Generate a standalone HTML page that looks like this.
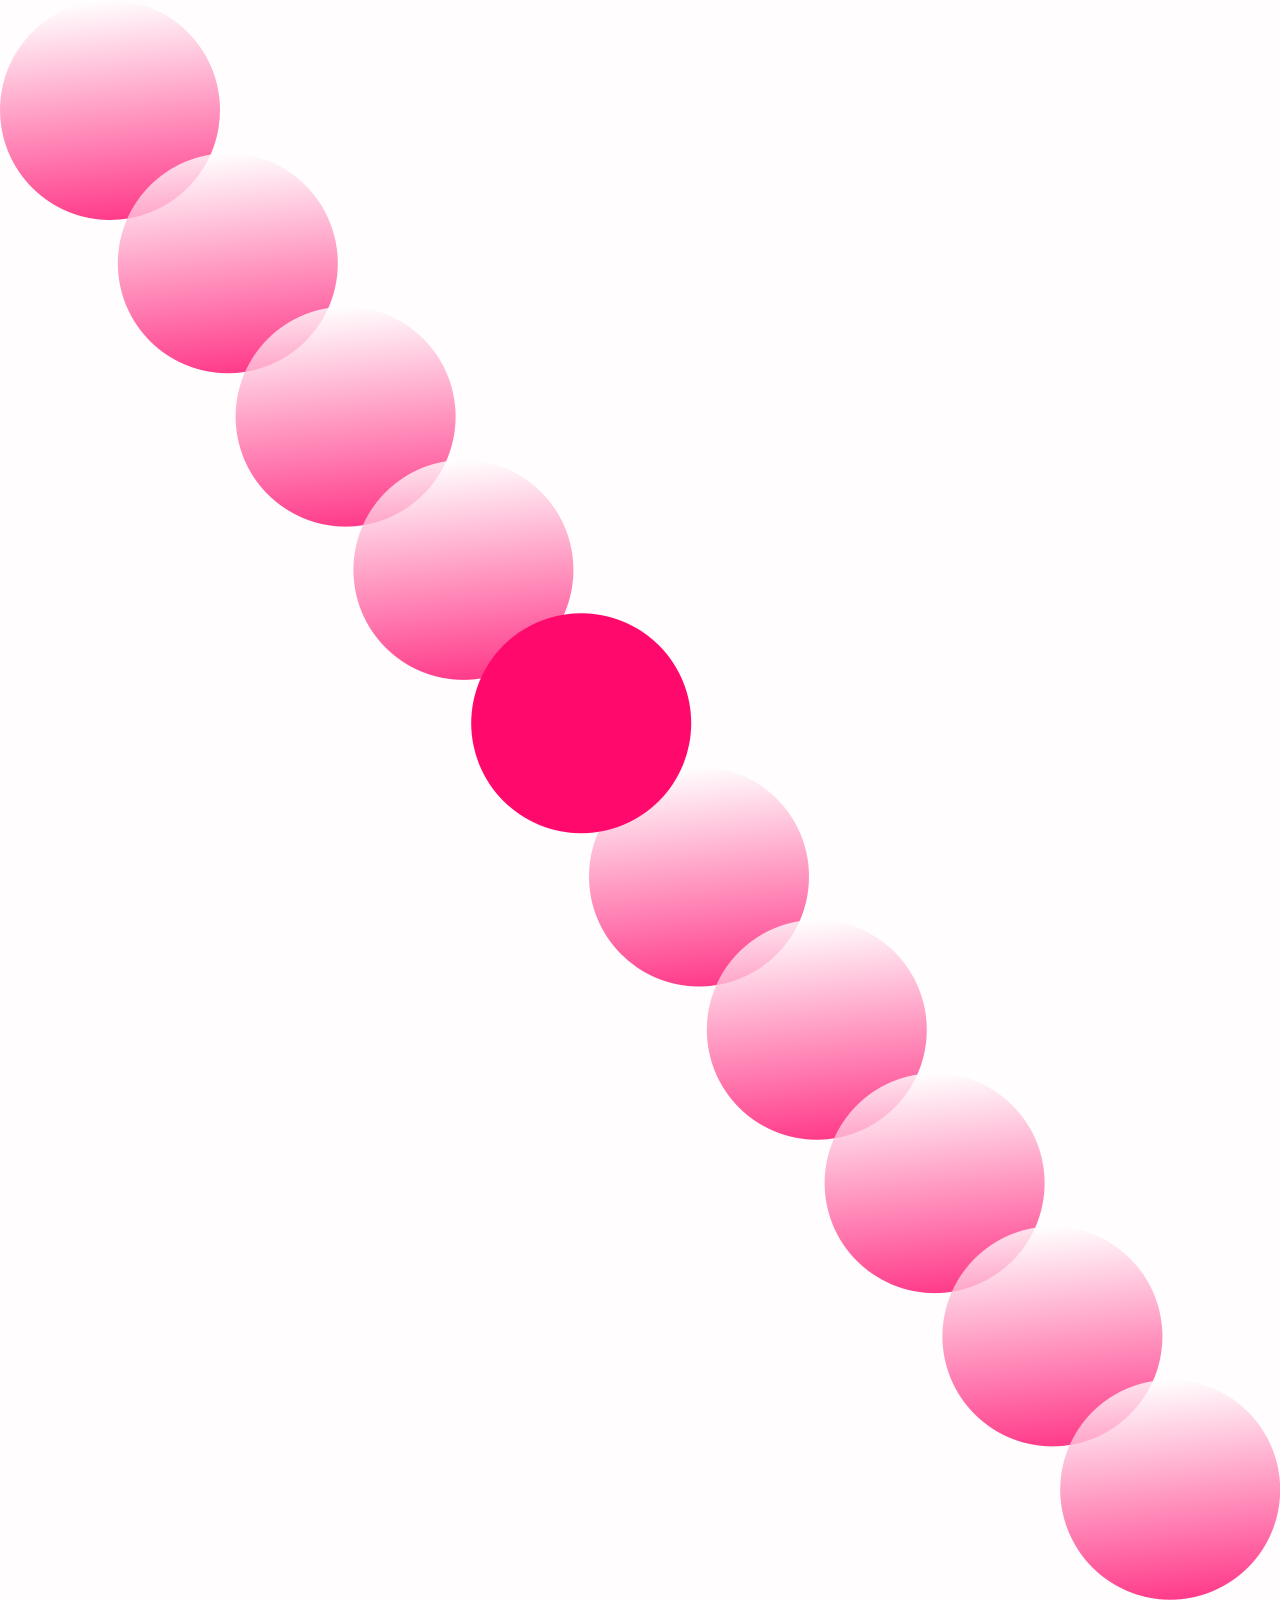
<!DOCTYPE html>
<html><head><meta charset="utf-8"><style>
html,body{margin:0;padding:0;background:#fff;width:1280px;height:1600px;overflow:hidden}
svg{display:block}
</style></head><body>
<svg id="chart" width="1280" height="1600" viewBox="0 0 1280 1600" xmlns="http://www.w3.org/2000/svg">
<defs>
<linearGradient id="g" x1="0.45" y1="0" x2="0.55" y2="1">
<stop offset="0" stop-color="#ffffff"/>
<stop offset="1" stop-color="#ff0a6c"/>
</linearGradient>
</defs>
<rect width="1280" height="1600" fill="#fffdfe"/>
<g id="marks"></g>
</svg>
<script>
const categories = [0,1,2,3,4,5,6,7,8,9];
const values = [0,1,2,3,4,5,6,7,8,9];
const highlighted = [4];
const R = 110;
function xScale(v){ return 110 + v*117.8; }
function yScale(v){ return 110 + v*153.3; }
const g = document.getElementById('marks');
const order = categories.map((_, i) => i).filter(i => !highlighted.includes(i)).concat(highlighted);
for (const i of order){
  const c = document.createElementNS('http://www.w3.org/2000/svg','circle');
  c.setAttribute('cx', xScale(categories[i]));
  c.setAttribute('cy', yScale(values[i]));
  c.setAttribute('r', R);
  const hi = highlighted.includes(i);
  c.setAttribute('fill', hi ? '#ff0a6c' : 'url(#g)');
  c.setAttribute('fill-opacity', hi ? '1' : '0.8');
  
  
  g.appendChild(c);
}
</script>
</body></html>
